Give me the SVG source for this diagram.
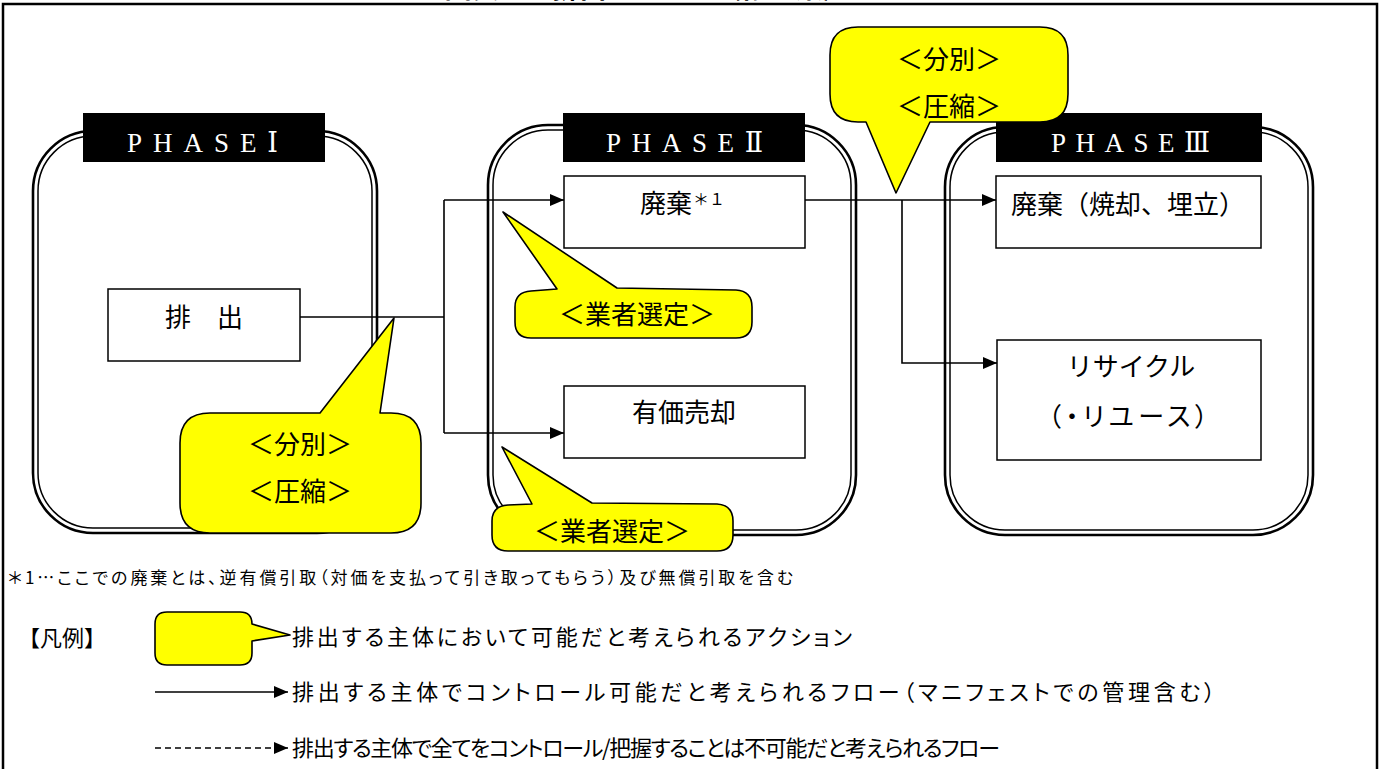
<svg xmlns="http://www.w3.org/2000/svg" width="1381" height="769" viewBox="0 0 1381 769">
<style>
.jp{font-family:"Noto Sans CJK JP",sans-serif;fill:#000}
.pa{font-feature-settings:"palt"}
.node{fill:#fff;stroke:#000;stroke-width:1.5}
.co{fill:#ff0;stroke:#000;stroke-width:1.6;stroke-linejoin:round}
.flow{fill:none;stroke:#000;stroke-width:1.6}
.pho{fill:none;stroke:#000;stroke-width:2.6}
.phi{fill:none;stroke:#000;stroke-width:1.5}
.lt{font-family:"Liberation Serif","DejaVu Serif",serif;fill:#fff;font-size:27px}
.nt{font-size:26px}
.ct{font-size:26px}
.lg{font-size:22px}
</style>
<defs>
<marker id="ah" viewBox="0 0 14 12" refX="14" refY="6" markerWidth="14" markerHeight="12" markerUnits="userSpaceOnUse" orient="auto"><path d="M0,0 L14,6 L0,12 Z" fill="#000"/></marker>
</defs>
<rect width="1381" height="769" fill="#fff"/>
<text class="jp" x="647" y="-2" text-anchor="middle" font-weight="bold" font-size="27">図表１　排出のフロー（修正案）</text>
<rect x="3" y="4" width="1374" height="775" fill="none" stroke="#000" stroke-width="2.5"/>

<g id="phase1">
<rect class="pho" x="33" y="131" width="344" height="402" rx="60"/>
<rect class="phi" x="38" y="136" width="334" height="392" rx="55"/>
<rect x="83" y="113" width="242" height="49" fill="#000"/>
<text class="lt" x="127" y="152" textLength="151">PHASEⅠ</text>
</g>
<g id="phase2">
<rect class="pho" x="488" y="125" width="368" height="410" rx="60"/>
<rect class="phi" x="493" y="130" width="358" height="400" rx="55"/>
<rect x="563" y="113" width="242" height="49" fill="#000"/>
<text class="lt" x="606" y="152" textLength="157">PHASEⅡ</text>
</g>
<g id="phase3">
<rect class="pho" x="945" y="127" width="368" height="408" rx="60"/>
<rect class="phi" x="950" y="132" width="358" height="398" rx="55"/>
<rect x="996" y="113" width="266" height="49" fill="#000"/>
<text class="lt" x="1051" y="152" textLength="159">PHASEⅢ</text>
</g>

<g id="n-haishutsu">
<rect class="node" x="108" y="289" width="192" height="72"/>
<text class="jp nt" x="204" y="327" text-anchor="middle">排　出</text>
</g>
<g id="n-haiki">
<rect class="node" x="564" y="176" width="241" height="72"/>
<text class="jp nt" x="640" y="213">廃棄<tspan font-size="16" x="693" y="205">＊１</tspan></text>
</g>
<g id="n-yuka">
<rect class="node" x="564" y="386" width="241" height="72"/>
<text class="jp nt" x="684" y="422" text-anchor="middle">有価売却</text>
</g>
<g id="n-shoukyaku">
<rect class="node" x="996" y="176" width="265" height="72"/>
<text class="jp nt" x="1128" y="214" text-anchor="middle">廃棄（焼却、埋立）</text>
</g>
<g id="n-recycle">
<rect class="node" x="997" y="340" width="264" height="120"/>
<text class="jp nt" x="1131" y="376" text-anchor="middle">リサイクル</text>
<text class="jp nt pa" x="1128" y="426" text-anchor="middle" textLength="160">（・リユース）</text>
</g>

<g id="connectors">
<path class="flow" d="M300,317 H444 M444,200 V433"/>
<path class="flow" d="M444,200 H564" marker-end="url(#ah)"/>
<path class="flow" d="M444,433 H564" marker-end="url(#ah)"/>
<path class="flow" d="M805,200 H996" marker-end="url(#ah)"/>
<path class="flow" d="M902,200 V363 H997" marker-end="url(#ah)"/>
</g>

<g id="callout-top">
<path class="co" d="M858,27 L1040,27 Q1068,27 1068,55 L1068,94 Q1068,122 1040,122 L930,122 L896,193 L866,122 L858,122 Q830,122 830,94 L830,55 Q830,27 858,27 Z"/>
<text class="jp ct" x="949" y="69" text-anchor="middle">＜分別＞</text>
<text class="jp ct" x="949" y="116" text-anchor="middle">＜圧縮＞</text>
</g>
<g id="callout-left">
<path class="co" d="M210,413 L320,413 L394,318 L380,413 L391,413 Q421,413 421,443 L421,503 Q421,533 391,533 L210,533 Q180,533 180,503 L180,443 Q180,413 210,413 Z"/>
<text class="jp ct" x="300" y="454" text-anchor="middle">＜分別＞</text>
<text class="jp ct" x="300" y="501" text-anchor="middle">＜圧縮＞</text>
</g>
<g id="callout-gyousha1">
<path class="co" d="M531,291 L557,289 L503,212 L617,288 L736,290 Q752,291 752,307 L752,322 Q752,338 736,338 L531,338 Q515,338 515,322 L515,307 Q515,292 531,291 Z"/>
<text class="jp ct" x="637" y="324" text-anchor="middle">＜業者選定＞</text>
</g>
<g id="callout-gyousha2">
<path class="co" d="M508,505 L532,504 L502,447 L592,503 L717,504 Q733,505 733,521 L733,535 Q733,551 717,551 L508,551 Q492,551 492,535 L492,521 Q492,506 508,505 Z"/>
<text class="jp ct" x="612" y="541" text-anchor="middle">＜業者選定＞</text>
</g>

<g id="footnote">
<text class="jp pa" x="8" y="584" font-size="17" textLength="785">＊1…ここでの廃棄とは、逆有償引取（対価を支払って引き取ってもらう）及び無償引取を含む</text>
</g>
<g id="legend">
<text class="jp lg" x="18" y="646">【凡例】</text>
<path class="co" d="M167,612 L240,612 Q252,612 252,624 L290,635 L252,641 L252,653 Q252,665 240,665 L167,665 Q155,665 155,653 L155,624 Q155,612 167,612 Z"/>
<text class="jp lg pa" x="292" y="645" textLength="560">排出する主体において可能だと考えられるアクション</text>
<path class="flow" d="M155,692 H288" marker-end="url(#ah)"/>
<text class="jp lg pa" x="292" y="700" textLength="923">排出する主体でコントロール可能だと考えられるフロー（マニフェストでの管理含む）</text>
<path class="flow" d="M155,748 H288" stroke-dasharray="6,4" marker-end="url(#ah)"/>
<text class="jp lg pa" x="292" y="756" textLength="708">排出する主体で全てをコントロール/把握することは不可能だと考えられるフロー</text>
</g>
</svg>
